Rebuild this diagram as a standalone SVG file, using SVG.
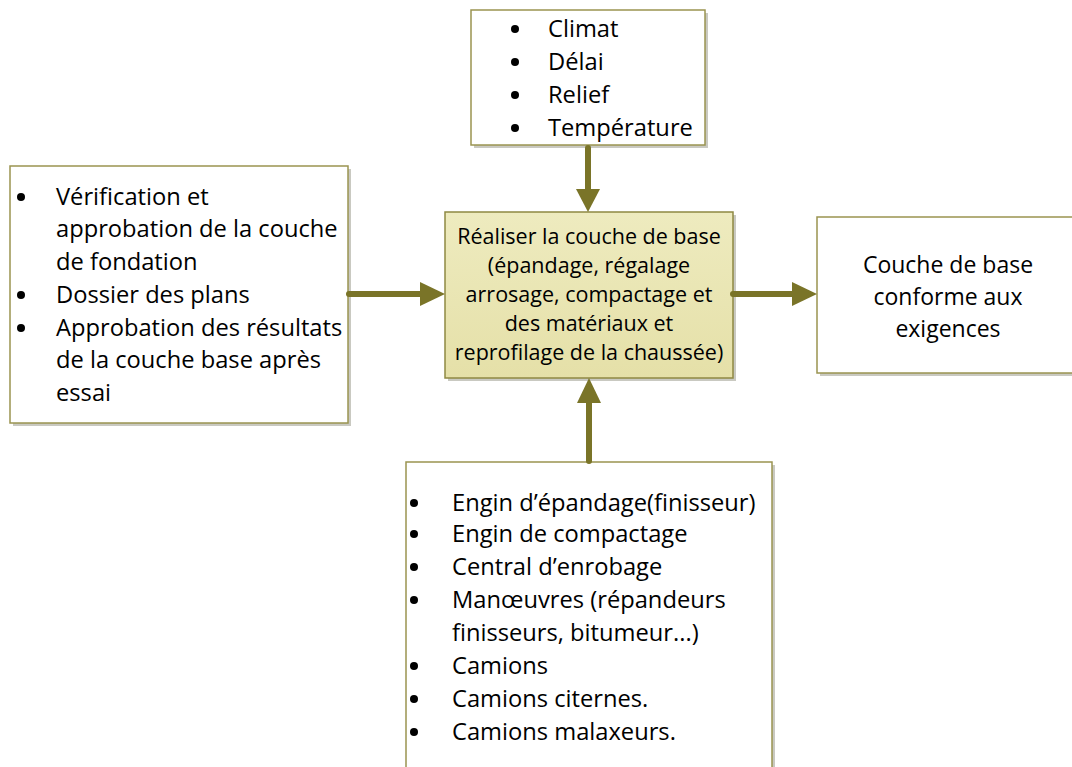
<svg xmlns="http://www.w3.org/2000/svg" width="1072" height="767" viewBox="0 0 1072 767">
  <style>
    .box { fill: #ffffff; stroke: #9a9450; stroke-width: 1.5; }
    .shadow { fill: #c9c9c1; }
    .txt { font-family: "Open Sans", "Liberation Sans", sans-serif; font-size: 23.7px; fill: #000; font-variant-ligatures: none; }
    .center { font-size: 21.5px; }
    .out { font-size: 23px; }
    .mid { text-anchor: middle; }
    .dot { fill: #000; }
    .conn { stroke: #7a7428; stroke-width: 6; stroke-linecap: round; fill: none; }
    .head { fill: #7a7428; }
  </style>
  <defs>
    <linearGradient id="centerFill" x1="0" y1="0" x2="0" y2="1">
      <stop offset="0" stop-color="#eeebbf"/>
      <stop offset="1" stop-color="#e5e0a8"/>
    </linearGradient>
  </defs>
  <rect width="1072" height="767" fill="#ffffff"/>

  <!-- environment constraints -->
  <g id="node-constraints">
    <rect class="shadow" x="474" y="13" width="234" height="135"/>
    <rect class="box" x="471" y="10" width="234" height="135"/>
    <circle class="dot" cx="515" cy="29" r="4"/>
    <circle class="dot" cx="515" cy="62" r="4"/>
    <circle class="dot" cx="515" cy="95" r="4"/>
    <circle class="dot" cx="515" cy="128" r="4"/>
    <text class="txt" x="548" y="37">Climat</text>
    <text class="txt" x="548" y="70">Délai</text>
    <text class="txt" x="548" y="103">Relief</text>
    <text class="txt" x="548" y="136">Température</text>
  </g>

  <!-- inputs -->
  <g id="node-inputs">
    <rect class="shadow" x="13" y="169" width="338" height="257"/>
    <rect class="box" x="10" y="166" width="338" height="257"/>
    <circle class="dot" cx="21" cy="197" r="4"/>
    <circle class="dot" cx="21" cy="295" r="4"/>
    <circle class="dot" cx="21" cy="328" r="4"/>
    <text class="txt" x="56" y="205">Vérification et</text>
    <text class="txt" x="56" y="237">approbation de la couche</text>
    <text class="txt" x="56" y="270">de fondation</text>
    <text class="txt" x="56" y="303">Dossier des plans</text>
    <text class="txt" x="56" y="336">Approbation des résultats</text>
    <text class="txt" x="56" y="368">de la couche base après</text>
    <text class="txt" x="56" y="401">essai</text>
  </g>

  <!-- main activity -->
  <g id="node-activity">
    <rect class="shadow" x="448" y="215" width="288" height="166"/>
    <rect x="445" y="212" width="288" height="166" fill="url(#centerFill)" stroke="#8f8943" stroke-width="1.5"/>
    <text class="txt center mid" x="589" y="244">Réaliser la couche de base</text>
    <text class="txt center mid" x="589" y="273">(épandage, régalage</text>
    <text class="txt center mid" x="589" y="302">arrosage, compactage et</text>
    <text class="txt center mid" x="589" y="331">des matériaux et</text>
    <text class="txt center mid" x="589" y="360">reprofilage de la chaussée)</text>
  </g>

  <!-- output -->
  <g id="node-output">
    <rect class="shadow" x="820" y="220" width="260" height="156"/>
    <rect class="box" x="817" y="217" width="260" height="156"/>
    <text class="txt out mid" x="948" y="273">Couche de base</text>
    <text class="txt out mid" x="948" y="305">conforme aux</text>
    <text class="txt out mid" x="948" y="337">exigences</text>
  </g>

  <!-- resources -->
  <g id="node-resources">
    <rect class="shadow" x="409" y="465" width="366" height="310"/>
    <rect class="box" x="406" y="462" width="366" height="310"/>
    <circle class="dot" cx="414" cy="503" r="4"/>
    <circle class="dot" cx="414" cy="534" r="4"/>
    <circle class="dot" cx="414" cy="567" r="4"/>
    <circle class="dot" cx="414" cy="600" r="4"/>
    <circle class="dot" cx="414" cy="666" r="4"/>
    <circle class="dot" cx="414" cy="699" r="4"/>
    <circle class="dot" cx="414" cy="732" r="4"/>
    <text class="txt" x="452" y="511">Engin d’épandage(finisseur)</text>
    <text class="txt" x="452" y="542">Engin de compactage</text>
    <text class="txt" x="452" y="575">Central d’enrobage</text>
    <text class="txt" x="452" y="608">Manœuvres (répandeurs</text>
    <text class="txt" x="452" y="641">finisseurs, bitumeur...)</text>
    <text class="txt" x="452" y="674">Camions</text>
    <text class="txt" x="452" y="707">Camions citernes.</text>
    <text class="txt" x="452" y="740">Camions malaxeurs.</text>
  </g>

  <!-- connectors -->
  <g id="connectors">
    <line class="conn" x1="588" y1="148" x2="588" y2="192"/>
    <polygon class="head" points="576,189 600,189 588,212"/>
    <line class="conn" x1="349" y1="294" x2="424" y2="294"/>
    <polygon class="head" points="420,282 420,306 445,294"/>
    <line class="conn" x1="733" y1="294" x2="796" y2="294"/>
    <polygon class="head" points="792,282 792,306 817,294"/>
    <line class="conn" x1="589" y1="461" x2="589" y2="400"/>
    <polygon class="head" points="577,403 601,403 589,378"/>
  </g>
</svg>
